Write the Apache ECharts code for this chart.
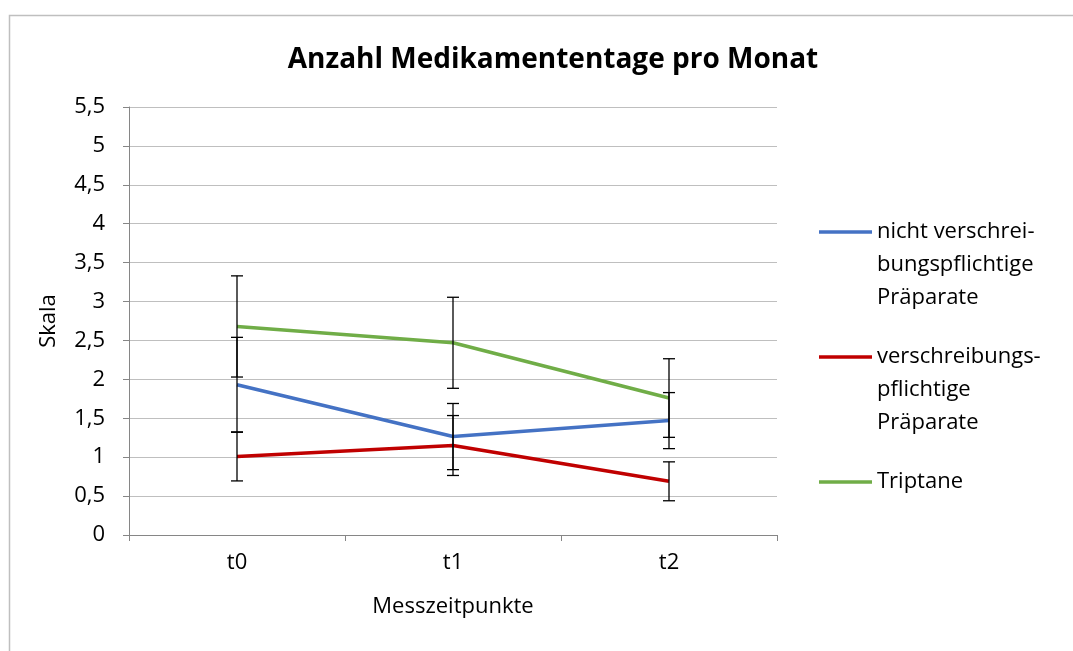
<!DOCTYPE html>
<html>
<head>
<meta charset="utf-8">
<script src="https://cdn.jsdelivr.net/npm/echarts@6/dist/echarts.min.js"></script>
<style>
  html, body { margin: 0; padding: 0; background: #fff; }
  #main { width: 1073px; height: 651px; }
</style>
</head>
<body>
<div id="main"></div>
<script>
// Messzeitpunkte
const categories = ['t0', 't1', 't2']
const seriesNames = ['nicht verschreibungspflichtige Präparate', 'verschreibungspflichtige Präparate', 'Triptane']
// Legenden-Texte (Zeilenumbruch wie im Original)
const legendLines = [
    ['nicht verschrei-', 'bungspflichtige', 'Präparate'],
    ['verschreibungs-', 'pflichtige', 'Präparate'],
    ['Triptane']
]
const colors = ['#4472C4', '#C00000', '#70AD47']

// Mittelwerte
const nichtVerschr = [1.93, 1.265, 1.47]
const verschr = [1.01, 1.15, 0.69]
const triptane = [2.68, 2.47, 1.76]
// Fehlerbalken (+/-)
const nichtVerschrErr = [0.61, 0.425, 0.36]
const verschrErr = [0.315, 0.385, 0.25]
const triptaneErr = [0.65, 0.585, 0.505]

const values = [nichtVerschr, verschr, triptane]
const errors = [nichtVerschrErr, verschrErr, triptaneErr]

const font = "'Open Sans', 'Noto Sans', sans-serif"
const chart = echarts.init(document.getElementById('main'))

// Fehlerbalken als custom series
const errorSeries = values.map((vals, s) => ({
    type: 'custom',
    name: seriesNames[s] + ' err',
    z: 3,
    silent: true,
    data: vals.map((v, i) => [i, v - errors[s][i], v + errors[s][i]]),
    renderItem: (params, api) => {
        const lo = api.coord([api.value(0), api.value(1)])
        const hi = api.coord([api.value(0), api.value(2)])
        const cap = 6
        const style = { stroke: '#000', lineWidth: 1.3 }
        return {
            type: 'group',
            children: [
                { type: 'line', shape: { x1: lo[0], y1: lo[1], x2: hi[0], y2: hi[1] }, style },
                { type: 'line', shape: { x1: lo[0] - cap, y1: lo[1], x2: lo[0] + cap, y2: lo[1] }, style },
                { type: 'line', shape: { x1: hi[0] - cap, y1: hi[1], x2: hi[0] + cap, y2: hi[1] }, style }
            ]
        }
    }
}))

const lineSeries = values.map((vals, s) => ({
    type: 'line',
    name: seriesNames[s],
    data: vals,
    z: 2,
    symbol: 'none',
    silent: true,
    lineStyle: { color: colors[s], width: 3.5 },
    itemStyle: { color: colors[s] }
}))

// Legende selbst gezeichnet
const legendTop = [232, 357, 482]
const legendGraphic = []
legendLines.forEach((lines, s) => {
    legendGraphic.push({
        type: 'line',
        shape: { x1: 819, y1: legendTop[s], x2: 872, y2: legendTop[s] },
        style: { stroke: colors[s], lineWidth: 3.5 }
    })
    lines.forEach((txt, k) => {
        legendGraphic.push({
            type: 'text',
            x: 877,
            y: legendTop[s] + k * 33,
            style: { text: txt, fill: '#000', font: '22px ' + font, textVerticalAlign: 'middle' }
        })
    })
})

chart.setOption({
    animation: false,
    backgroundColor: '#fff',
    title: {
        text: 'Anzahl Medikamententage pro Monat',
        left: 548,
        textAlign: 'center',
        top: 41,
        textStyle: { fontFamily: font, fontWeight: 'bold', fontSize: 28, color: '#000' }
    },
    grid: { left: 129, right: 296, top: 107, bottom: 116 },
    xAxis: {
        type: 'category',
        data: categories,
        boundaryGap: true,
        name: 'Messzeitpunkte',
        nameLocation: 'middle',
        nameGap: 61,
        nameTextStyle: { fontFamily: font, fontSize: 22, color: '#000' },
        axisLine: { lineStyle: { color: '#868686', width: 1 } },
        axisTick: { show: true, length: 6, lineStyle: { color: '#868686' } },
        axisLabel: { fontFamily: font, fontSize: 22, color: '#000', margin: 17 }
    },
    yAxis: {
        type: 'value',
        min: 0,
        max: 5.5,
        interval: 0.5,
        name: 'Skala',
        nameLocation: 'middle',
        nameGap: 69,
        nameRotate: 90,
        nameTextStyle: { fontFamily: font, fontSize: 22, color: '#000' },
        axisLine: { show: true, lineStyle: { color: '#868686', width: 1 } },
        axisTick: { show: true, length: 6, lineStyle: { color: '#868686' } },
        axisLabel: {
            fontFamily: font, fontSize: 22, color: '#000', margin: 24,
            formatter: v => String(v).replace('.', ',')
        },
        splitLine: { lineStyle: { color: '#BFBFBF', width: 1 } }
    },
    series: [...lineSeries, ...errorSeries],
    graphic: [
        {
            type: 'rect',
            shape: { x: 9.5, y: 15.5, width: 1200, height: 800 },
            style: { fill: null, stroke: '#BFBFBF', lineWidth: 1.5 },
            silent: true
        },
        ...legendGraphic
    ]
})
</script>
</body>
</html>
